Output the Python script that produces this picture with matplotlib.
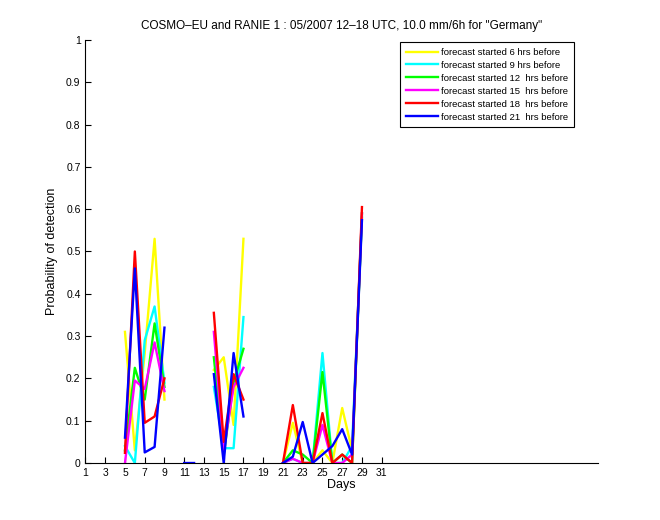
import numpy as np
import matplotlib
matplotlib.use('Agg')
import matplotlib.pyplot as plt

plt.rcParams['font.family'] = ['Liberation Sans', 'DejaVu Sans']

nan = np.nan
days = list(range(1, 32))

# valores (nan = sem dado)
prob_6h = [nan, nan, nan, nan, 0.31, 0.03, 0.26, 0.53, 0.15, nan, nan, nan, nan,
           0.22, 0.25, 0.09, 0.53, nan, nan, nan,
           0.0, 0.095, 0.0, 0.0, 0.03, 0.0, 0.13, 0.03, 0.58, nan, nan]
prob_9h = [nan, nan, nan, nan, 0.04, 0.0, 0.29, 0.37, 0.19, nan, nan, nan, nan,
           0.18, 0.035, 0.035, 0.345, nan, nan, nan,
           0.0, 0.01, 0.0, 0.0, 0.26, 0.0, 0.0, 0.04, 0.58, nan, nan]
prob_12h = [nan, nan, nan, nan, 0.03, 0.225, 0.15, 0.33, 0.18, nan, nan, nan, nan,
            0.25, 0.02, 0.19, 0.27, nan, nan, nan,
            0.0, 0.03, 0.02, 0.0, 0.215, 0.0, 0.02, 0.0, 0.59, nan, nan]
prob_15h = [nan, nan, nan, nan, 0.0, 0.195, 0.175, 0.285, 0.17, nan, nan, nan, nan,
            0.31, 0.03, 0.18, 0.225, nan, nan, nan,
            0.0, 0.01, 0.0, 0.0, 0.09, 0.0, 0.0, 0.02, 0.59, nan, nan]
prob_18h = [nan, nan, nan, nan, 0.024, 0.50, 0.095, 0.11, 0.20, nan, nan, nan, nan,
            0.355, 0.05, 0.21, 0.15, nan, nan, nan,
            0.0, 0.137, 0.0, 0.0, 0.118, 0.0, 0.02, 0.0, 0.605, nan, nan]
prob_21h = [nan, nan, nan, nan, 0.06, 0.46, 0.025, 0.038, 0.32, nan, 0.0, 0.0, nan,
            0.21, 0.0, 0.26, 0.11, nan, nan, nan,
            0.0, 0.015, 0.097, 0.0, 0.02, 0.04, 0.08, 0.02, 0.574, nan, nan]

series = [prob_6h, prob_9h, prob_12h, prob_15h, prob_18h, prob_21h]
labels = ['forecast started 6 hrs before', 'forecast started 9 hrs before',
          'forecast started 12  hrs before', 'forecast started 15  hrs before',
          'forecast started 18  hrs before', 'forecast started 21  hrs before']
colors = ['#ffff00', '#00ffff', '#00ff00', '#ff00ff', '#ff0000', '#0000ff']

fig = plt.figure(figsize=(6.6, 5.2), dpi=100)
ax = fig.add_axes([0.1295, 0.1096, 0.7765, 0.8135])

for vals, lab, col in zip(series, labels, colors):
    ax.plot(days, vals, color=col, linewidth=1.7, label=lab)

ax.set_xlim(1, 52.9)
ax.set_ylim(0, 1)
ax.set_xticks(range(1, 32, 2))
ax.set_yticks(np.arange(0, 1.01, 0.1))
ax.set_yticklabels(['0', '0.1', '0.2', '0.3', '0.4', '0.5', '0.6', '0.7', '0.8', '0.9', '1'])
ax.tick_params(direction='in', labelsize=7.5, length=4)
ax.spines['top'].set_visible(False)
ax.spines['right'].set_visible(False)
ax.set_xlabel('Days', fontsize=9, labelpad=1)
ax.set_ylabel('Probability of detection', fontsize=9, labelpad=6)
ax.set_title('COSMO\u2013EU and RANIE 1 : 05/2007 12\u201318 UTC, 10.0 mm/6h for "Germany"',
             fontsize=8.5, pad=8)

leg = ax.legend(loc='upper right', bbox_to_anchor=(0.962, 1.006), fontsize=6.8,
                fancybox=False, edgecolor='black', framealpha=1, handlelength=3.4,
                borderpad=0.6, labelspacing=0.42, handletextpad=0.3)
leg.get_frame().set_linewidth(0.8)

fig.savefig('out.png', dpi=100)
